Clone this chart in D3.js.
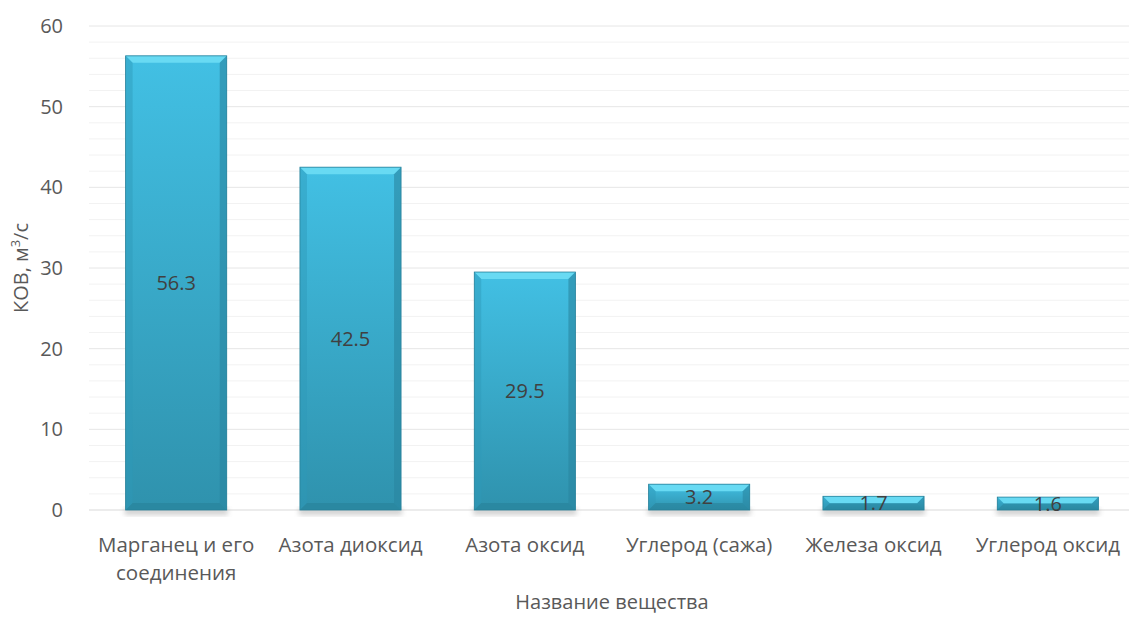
<!DOCTYPE html>
<html><head><meta charset="utf-8">
<script src="https://cdn.jsdelivr.net/npm/d3@7"></script>
<style>body{margin:0;background:#fff;} svg{display:block;font-family:"Open Sans",sans-serif;}</style>
</head><body><svg id="c" width="1129" height="617"></svg>
<script>
const categories = ["Марганец и его соединения","Азота диоксид","Азота оксид","Углерод (сажа)","Железа оксид","Углерод оксид"];
const values = [56.3, 42.5, 29.5, 3.2, 1.7, 1.6];
const yTicks = [0,10,20,30,40,50,60];
const minorTicks = d3.range(0, 61, 2);

const svg = d3.select("#c");
const W = 1129, H = 617;
const m = {left: 89, right: -6, top: 26, bottom: 107};
const x = d3.scaleBand().domain(categories).range([m.left, W - m.right]).paddingInner(0.42).paddingOuter(0.21);
const y = d3.scaleLinear().domain([0, 60]).range([H - m.bottom, m.top]);

const defs = svg.append("defs");
const g = defs.append("linearGradient").attr("id","bg").attr("x1",0).attr("x2",0).attr("y1",0).attr("y2",1);
g.append("stop").attr("offset","0%").attr("stop-color","#42c0e4");
g.append("stop").attr("offset","100%").attr("stop-color","#2f92ad");
const f = defs.append("filter").attr("id","sh").attr("x","-20%").attr("y","-20%").attr("width","140%").attr("height","140%");
f.append("feGaussianBlur").attr("stdDeviation",2.5);

// gridlines
svg.append("g").selectAll("line").data(minorTicks.filter(d => d % 10 !== 0)).join("line")
  .attr("x1", m.left).attr("x2", W).attr("y1", d => y(d)).attr("y2", d => y(d))
  .attr("stroke", "#f2f2f2").attr("stroke-width", 1);
svg.append("g").selectAll("line").data(yTicks).join("line")
  .attr("x1", m.left).attr("x2", W).attr("y1", d => y(d)).attr("y2", d => y(d))
  .attr("stroke", d => d === 0 ? "#d9d9d9" : "#e6e6e6").attr("stroke-width", 1);

// y axis labels
const yAxis = d3.axisLeft(y).tickValues(yTicks).tickSize(0).tickPadding(26);
svg.append("g").attr("transform", `translate(${m.left},0)`).call(yAxis)
  .call(a => a.select(".domain").remove())
  .selectAll("text").attr("font-size", 20).attr("fill", "#595959").attr("font-family", "Open Sans");

// bars
const bars = svg.append("g").selectAll("g").data(categories).join("g");
const bw = x.bandwidth();
bars.each(function(c, i) {
  const gg = d3.select(this);
  const x0 = x(c), y0 = y(values[i]), y1 = y(0), h = y1 - y0;
  const b = Math.min(7, h / 2);
  gg.append("rect").attr("x", x0 - 1).attr("y", y1 - 2).attr("width", bw + 2).attr("height", 7)
    .attr("fill", "#9a9a9a").attr("opacity", 0.45).attr("filter", "url(#sh)");
  gg.append("rect").attr("x", x0).attr("y", y0).attr("width", bw).attr("height", h).attr("fill", "url(#bg)");
  // top bevel
  gg.append("path").attr("d", `M${x0},${y0}L${x0+bw},${y0}L${x0+bw-b},${y0+b}L${x0+b},${y0+b}Z`).attr("fill", "#68daf3");
  // left bevel
  gg.append("path").attr("d", `M${x0},${y0}L${x0+b},${y0+b}L${x0+b},${y1-b}L${x0},${y1}Z`).attr("fill", "#2f9ab8").attr("opacity", 0.45);
  // right bevel
  gg.append("path").attr("d", `M${x0+bw},${y0}L${x0+bw-b},${y0+b}L${x0+bw-b},${y1-b}L${x0+bw},${y1}Z`).attr("fill", "#2a86a0").attr("opacity", 0.6);
  // bottom bevel
  gg.append("path").attr("d", `M${x0},${y1}L${x0+b},${y1-b}L${x0+bw-b},${y1-b}L${x0+bw},${y1}Z`).attr("fill", "#277f97").attr("opacity", 0.55);
  gg.append("rect").attr("x", x0).attr("y", y0).attr("width", bw).attr("height", h)
    .attr("fill", "none").attr("stroke", "#27809a").attr("stroke-width", 0.8);
  gg.append("text").attr("x", x0 + bw / 2).attr("y", (y0 + y1) / 2).attr("dy", "0.36em")
    .attr("text-anchor", "middle").attr("font-size", 20).attr("fill", "#404040").text(values[i]);
});

// category labels
const lines = {"Марганец и его соединения": ["Марганец и его", "соединения"]};
svg.append("g").selectAll("text").data(categories).join("text")
  .attr("x", d => x(d) + bw / 2).attr("y", 552).attr("text-anchor", "middle")
  .attr("font-size", 20.5).attr("fill", "#595959")
  .each(function(d) {
    const t = d3.select(this);
    (lines[d] || [d]).forEach((l, k) => t.append("tspan").attr("x", x(d) + bw / 2).attr("dy", k ? 28 : 0).text(l));
  });

// axis titles
svg.append("text").attr("x", 612).attr("y", 609).attr("text-anchor", "middle")
  .attr("font-size", 20).attr("fill", "#595959").text("Название вещества");
const yt = svg.append("text").attr("transform", "translate(28,268) rotate(-90)").attr("text-anchor", "middle")
  .attr("font-size", 20).attr("fill", "#595959");
yt.append("tspan").text("КОВ, м");
yt.append("tspan").attr("font-size", 13).attr("dy", -8).text("3");
yt.append("tspan").attr("dy", 8).text("/с");
</script></body></html>
